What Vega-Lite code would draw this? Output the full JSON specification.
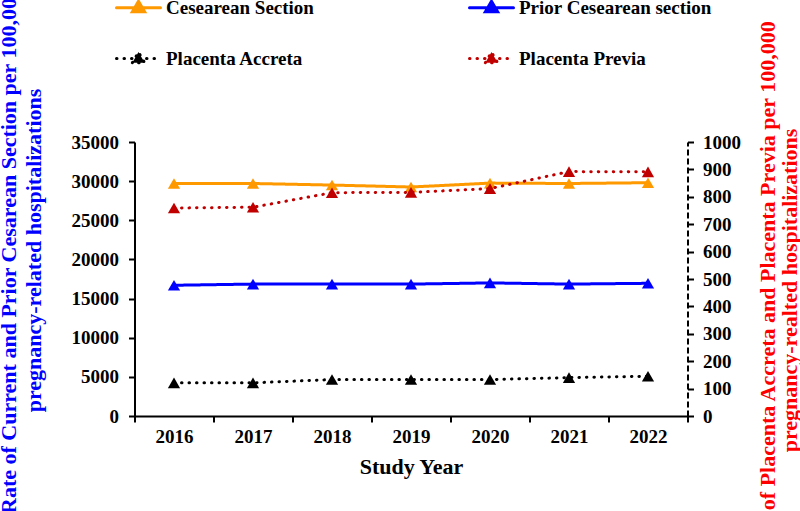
{
  "$schema": "https://vega.github.io/schema/vega-lite/v6.json",
  "width": 553,
  "height": 274,
  "autosize": {"type": "none"},
  "padding": {"left": 134.5, "top": 142, "right": 112.5, "bottom": 95},
  "background": "white",
  "config": {
    "view": {"stroke": null},
    "font": "Liberation Serif, Times New Roman, serif",
    "axis": {
      "domainColor": "black", "domainWidth": 2, "tickColor": "black", "tickWidth": 2, "tickSize": 6,
      "labelFont": "Liberation Serif, Times New Roman, serif", "labelFontWeight": "bold", "labelFontSize": 19, "labelColor": "black",
      "titleFont": "Liberation Serif, Times New Roman, serif", "titleFontWeight": "bold", "grid": false
    }
  },
  "data": {
    "values": [
      {"year": "2016", "series": "Cesearean Section", "axis": "left", "value": 29700},
      {"year": "2017", "series": "Cesearean Section", "axis": "left", "value": 29700},
      {"year": "2018", "series": "Cesearean Section", "axis": "left", "value": 29500},
      {"year": "2019", "series": "Cesearean Section", "axis": "left", "value": 29250},
      {"year": "2020", "series": "Cesearean Section", "axis": "left", "value": 29750},
      {"year": "2021", "series": "Cesearean Section", "axis": "left", "value": 29700},
      {"year": "2022", "series": "Cesearean Section", "axis": "left", "value": 29800},
      {"year": "2016", "series": "Prior Cesearean section", "axis": "left", "value": 16700},
      {"year": "2017", "series": "Prior Cesearean section", "axis": "left", "value": 16850},
      {"year": "2018", "series": "Prior Cesearean section", "axis": "left", "value": 16850},
      {"year": "2019", "series": "Prior Cesearean section", "axis": "left", "value": 16850},
      {"year": "2020", "series": "Prior Cesearean section", "axis": "left", "value": 17000},
      {"year": "2021", "series": "Prior Cesearean section", "axis": "left", "value": 16850},
      {"year": "2022", "series": "Prior Cesearean section", "axis": "left", "value": 16950},
      {"year": "2016", "series": "Placenta Accreta", "axis": "right", "value": 121},
      {"year": "2017", "series": "Placenta Accreta", "axis": "right", "value": 121},
      {"year": "2018", "series": "Placenta Accreta", "axis": "right", "value": 133},
      {"year": "2019", "series": "Placenta Accreta", "axis": "right", "value": 133},
      {"year": "2020", "series": "Placenta Accreta", "axis": "right", "value": 133},
      {"year": "2021", "series": "Placenta Accreta", "axis": "right", "value": 140},
      {"year": "2022", "series": "Placenta Accreta", "axis": "right", "value": 145},
      {"year": "2016", "series": "Placenta Previa", "axis": "right", "value": 759},
      {"year": "2017", "series": "Placenta Previa", "axis": "right", "value": 762},
      {"year": "2018", "series": "Placenta Previa", "axis": "right", "value": 815},
      {"year": "2019", "series": "Placenta Previa", "axis": "right", "value": 816},
      {"year": "2020", "series": "Placenta Previa", "axis": "right", "value": 830},
      {"year": "2021", "series": "Placenta Previa", "axis": "right", "value": 892},
      {"year": "2022", "series": "Placenta Previa", "axis": "right", "value": 891}
    ]
  },
  "encoding": {
    "x": {
      "field": "year", "type": "ordinal",
      "scale": {"type": "band", "paddingInner": 0, "paddingOuter": 0},
      "axis": {
        "title": "Study Year", "labelAngle": 0, "tickBand": "extent", "labelPadding": 5,
        "titleFontSize": 22, "titleColor": "black", "titlePadding": 10
      }
    },
    "color": {
      "field": "series", "type": "nominal",
      "scale": {
        "domain": ["Cesearean Section", "Prior Cesearean section", "Placenta Accreta", "Placenta Previa"],
        "range": ["#FF9900", "#0000FF", "#000000", "#C00000"]
      },
      "legend": {
        "title": null, "orient": "none", "direction": "horizontal", "legendX": -19.5, "legendY": -158, "columns": 2,
        "padding": 0, "columnPadding": 149, "rowPadding": 17,
        "symbolType": "M-1,0L1,0M-0.28,0.19L0,-0.29L0.28,0.19Z",
        "symbolSize": 1936, "symbolStrokeWidth": 3,
        "labelFont": "Liberation Serif, Times New Roman, serif", "labelFontWeight": "bold", "labelFontSize": 19,
        "labelColor": "black", "labelOffset": 4, "labelLimit": 300,
        "encode": {
          "symbols": {
            "update": {
              "fill": {"scale": "color", "field": "value"},
              "stroke": {"scale": "color", "field": "value"},
              "strokeCap": {"value": "round"},
              "opacity": {"value": 1}
            }
          }
        }
      }
    }
  },
  "layer": [
    {
      "transform": [{"filter": "datum.axis == 'left'"}],
      "encoding": {
        "y": {
          "field": "value", "type": "quantitative",
          "scale": {"domain": [0, 35000], "nice": false},
          "axis": {
            "orient": "left", "format": "d",
            "values": [0, 5000, 10000, 15000, 20000, 25000, 30000, 35000],
            "labelPadding": 10,
            "title": ["Rate of Current and Prior Cesarean Section per 100,000", "pregnancy-related hospitalizations"],
            "titleColor": "#0000FF", "titleFontSize": 22, "titleAngle": 270,
            "titleX": -126, "titleY": 108, "titleAlign": "center", "titleBaseline": "middle",
            "titleLineHeight": 25
          }
        }
      },
      "layer": [
        {
          "mark": {"type": "line", "strokeWidth": 3, "strokeCap": "round"},
          "encoding": {
            "strokeDash": {
              "field": "series", "type": "nominal",
              "scale": {
                "domain": ["Cesearean Section", "Prior Cesearean section", "Placenta Accreta", "Placenta Previa"],
                "range": [[1, 0], [1, 0], [0.5, 7], [0.5, 7]]
              },
              "legend": {"title": null}
            }
          }
        },
        {"mark": {"type": "point", "shape": "triangle-up", "filled": true, "size": 150, "opacity": 1}}
      ]
    },
    {
      "transform": [{"filter": "datum.axis == 'right'"}],
      "encoding": {
        "y": {
          "field": "value", "type": "quantitative",
          "scale": {"domain": [0, 1000], "nice": false},
          "axis": {
            "orient": "right", "format": "d",
            "values": [0, 100, 200, 300, 400, 500, 600, 700, 800, 900, 1000],
            "labelPadding": 9,
            "domainDash": [6, 3],
            "title": ["Rate of Placenta Accreta and Placenta Previa per 100,000", "pregnancy-realted hospitalizations"],
            "titleColor": "#FF0000", "titleFontSize": 22, "titleAngle": 270,
            "titleX": 80, "titleY": 148, "titleAlign": "center", "titleBaseline": "middle",
            "titleLineHeight": 22
          }
        }
      },
      "layer": [
        {
          "mark": {"type": "line", "strokeWidth": 3, "strokeCap": "round"},
          "encoding": {
            "strokeDash": {
              "field": "series", "type": "nominal",
              "scale": {
                "domain": ["Cesearean Section", "Prior Cesearean section", "Placenta Accreta", "Placenta Previa"],
                "range": [[1, 0], [1, 0], [0.5, 7], [0.5, 7]]
              },
              "legend": {"title": null}
            }
          }
        },
        {"mark": {"type": "point", "shape": "triangle-up", "filled": true, "size": 150, "opacity": 1}}
      ]
    }
  ],
  "resolve": {"scale": {"y": "independent"}}
}
